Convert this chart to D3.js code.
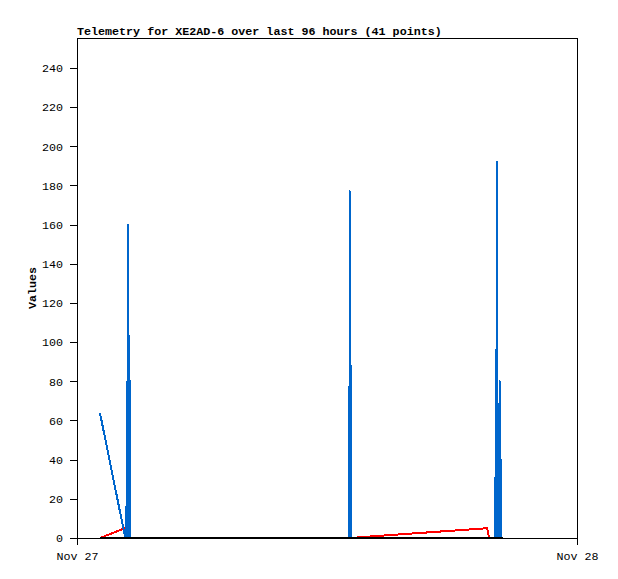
<!DOCTYPE html>
<html>
<head>
<meta charset="utf-8">
<script src="https://cdn.jsdelivr.net/npm/d3@7"></script>
<style>
  body { margin: 0; background: #fff; }
  text { font-family: "Liberation Mono", "DejaVu Sans Mono", monospace; font-size: 11.7px; fill: #000; }
  .title, .ylabel { font-weight: bold; }
</style>
</head>
<body>
<div id="chart"></div>
<script>
// packet times on Nov 27 (HH:MM), shared by the three series
const times = ["01:06", "02:18", "02:20", "02:21", "02:22", "02:24", "02:25", "02:26",
               "02:27", "02:28", "02:29", "02:32", "02:33", "02:34",
               "13:04", "13:06", "13:07", "13:08", "13:09", "13:10", "13:43",
               "19:41", "19:47", "20:05", "20:06", "20:07", "20:09", "20:10", "20:11",
               "20:16", "20:17", "20:18", "20:20", "20:21", "20:22", "20:27"];
const blueValues  = [64, 1, 0, 16, 0, 0, 80, 0,
                     0, 160, 0, 0, 80, 0,
                     0, 177, 0, 0, 88, 0, 0,
                     0, 0, 0, 96, 0, 0, 192, 0,
                     0, 80, 0, 0, 40, 0, 0];
const redValues   = [0, 5, 0, 0, 0, 0, 0, 0,
                     0, 0, 0, 0, 0, 0,
                     0, 0, 0, 0, 0, 0, 0.5,
                     5, 0, 0, 0, 0, 0, 0, 0,
                     0, 0, 0, 0, 0, 0, 0];
const blackValues = times.map(() => 0);

const yTicks = [0, 20, 40, 60, 80, 100, 120, 140, 160, 180, 200, 220, 240];
const xTickLabels = ["Nov 27", "Nov 28"];
const titleText = "Telemetry for XE2AD-6 over last 96 hours (41 points)";

const margin = { top: 38, right: 41, bottom: 41, left: 77 },
    width = 618 - margin.left - margin.right,
    height = 579 - margin.top - margin.bottom;

const parseTime = d3.timeParse("%Y-%m-%d %H:%M");
const day0 = parseTime("2021-11-27 00:00");
const day1 = parseTime("2021-11-28 00:00");
const dates = times.map(t => parseTime("2021-11-27 " + t));

const svg = d3.select("#chart").append("svg")
    .attr("width", 618)
    .attr("height", 579);

const g = svg.append("g")
    .attr("transform", "translate(" + margin.left + "," + margin.top + ")");

const x = d3.scaleTime().domain([day0, day1]).range([0, width]);
const y = d3.scaleLinear().domain([0, 255.3]).range([height, 0]);

// frame
g.append("rect")
    .attr("width", width).attr("height", height)
    .attr("fill", "none").attr("stroke", "#000")
    .attr("shape-rendering", "crispEdges");

// y axis
const yAxis = g.append("g")
    .call(d3.axisLeft(y).tickValues(yTicks).tickSize(7).tickPadding(7).tickSizeOuter(0));
yAxis.select(".domain").remove();
yAxis.selectAll("line").attr("shape-rendering", "crispEdges");

// x axis
const xAxis = g.append("g")
    .attr("transform", "translate(0," + height + ")")
    .call(d3.axisBottom(x).tickValues([day0, day1])
        .tickFormat((d, i) => xTickLabels[i])
        .tickSize(7).tickPadding(7).tickSizeOuter(0));
xAxis.select(".domain").remove();
xAxis.selectAll("line").attr("shape-rendering", "crispEdges");
g.selectAll(".tick text").attr("font-family", null).attr("font-size", null);

// series
function paint(values, color, w) {
    g.append("path")
        .datum(values)
        .attr("fill", "none")
        .attr("stroke", color)
        .attr("stroke-width", w)
        .attr("stroke-linejoin", "round")
        .attr("shape-rendering", "crispEdges")
        .attr("d", d3.line()
            .x((d, i) => x(dates[i]))
            .y(d => y(d)));
}
paint(redValues, "#ff0000", 2);
paint(blueValues, "#0066cc", 2);
paint(blackValues, "#000000", 2.5);

// title
svg.append("text")
    .attr("class", "title")
    .attr("x", margin.left)
    .attr("y", 35)
    .text(titleText);

// y label
svg.append("text")
    .attr("class", "ylabel")
    .attr("transform", "translate(36," + (margin.top + height / 2) + ") rotate(-90)")
    .attr("text-anchor", "middle")
    .text("Values");
</script>
</body>
</html>
